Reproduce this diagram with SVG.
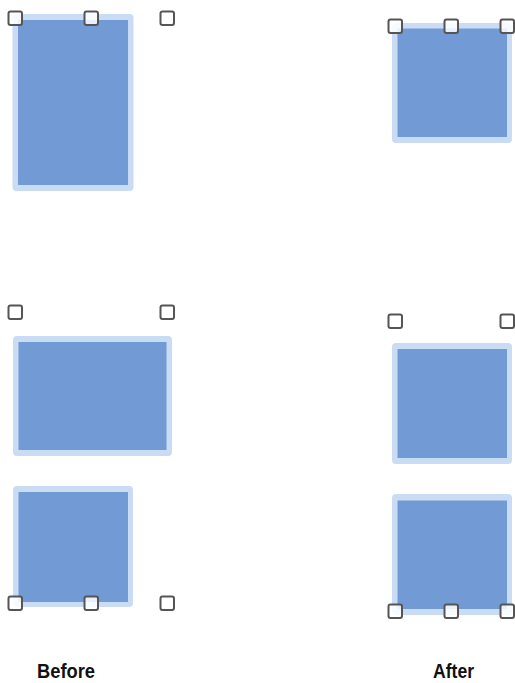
<svg xmlns="http://www.w3.org/2000/svg" width="515" height="683" viewBox="0 0 515 683">
<style>
.outer{fill:#cadcf3}
.inner{fill:#729ad4}
.h{fill:#ffffff;fill-opacity:0.85;stroke:#555555;stroke-width:2}
.lbl{font-family:"Liberation Sans",Arial,sans-serif;font-size:21px;font-weight:bold;fill:#111111}
</style>
<rect width="515" height="683" fill="#ffffff"/>
<g id="before-top">
<rect class="outer" x="12.5" y="14" width="121" height="177" rx="4"/>
<rect class="inner" x="18" y="20" width="110" height="165"/>
</g>
<g id="before-top-handles">
<rect class="h" x="8.5" y="11.5" width="13.5" height="13.5" rx="2"/>
<rect class="h" x="84.5" y="11.5" width="13.5" height="13.5" rx="2"/>
<rect class="h" x="160.5" y="11.5" width="13.5" height="13.5" rx="2"/>
</g>
<g id="after-top">
<rect class="outer" x="392" y="23" width="120" height="120" rx="4"/>
<rect class="inner" x="397.5" y="28.5" width="109.5" height="108.5"/>
</g>
<g id="after-top-handles">
<rect class="h" x="388.5" y="19.5" width="13.5" height="13.5" rx="2"/>
<rect class="h" x="444.5" y="19.5" width="13.5" height="13.5" rx="2"/>
<rect class="h" x="500.5" y="19.5" width="13.5" height="13.5" rx="2"/>
</g>
<g id="before-mid">
<rect class="outer" x="13" y="336" width="159" height="120" rx="4"/>
<rect class="inner" x="18.5" y="342" width="148" height="108"/>
</g>
<g id="before-bottom">
<rect class="outer" x="13" y="486" width="120" height="121" rx="4"/>
<rect class="inner" x="18.5" y="492" width="109.5" height="110"/>
</g>
<g id="before-handles">
<rect class="h" x="8.5" y="305.5" width="13.5" height="13.5" rx="2"/>
<rect class="h" x="160.5" y="305.5" width="13.5" height="13.5" rx="2"/>
<rect class="h" x="8.5" y="596.5" width="13.5" height="13.5" rx="2"/>
<rect class="h" x="84.5" y="596.5" width="13.5" height="13.5" rx="2"/>
<rect class="h" x="160.5" y="596.5" width="13.5" height="13.5" rx="2"/>
</g>
<g id="after-mid">
<rect class="outer" x="392" y="343" width="120" height="121" rx="4"/>
<rect class="inner" x="397.5" y="349" width="109.5" height="109"/>
</g>
<g id="after-bottom">
<rect class="outer" x="392" y="494" width="120" height="121" rx="4"/>
<rect class="inner" x="397.5" y="500.5" width="109.5" height="108.5"/>
</g>
<g id="after-handles">
<rect class="h" x="388.5" y="314.5" width="13.5" height="13.5" rx="2"/>
<rect class="h" x="500.5" y="314.5" width="13.5" height="13.5" rx="2"/>
<rect class="h" x="388.5" y="604.5" width="13.5" height="13.5" rx="2"/>
<rect class="h" x="444.5" y="604.5" width="13.5" height="13.5" rx="2"/>
<rect class="h" x="500.5" y="604.5" width="13.5" height="13.5" rx="2"/>
</g>
<g id="connectors"></g>
<g id="labels">
<text class="lbl" x="37" y="678" textLength="58" lengthAdjust="spacingAndGlyphs">Before</text>
<text class="lbl" x="433" y="678" textLength="41" lengthAdjust="spacingAndGlyphs">After</text>
</g>
</svg>
